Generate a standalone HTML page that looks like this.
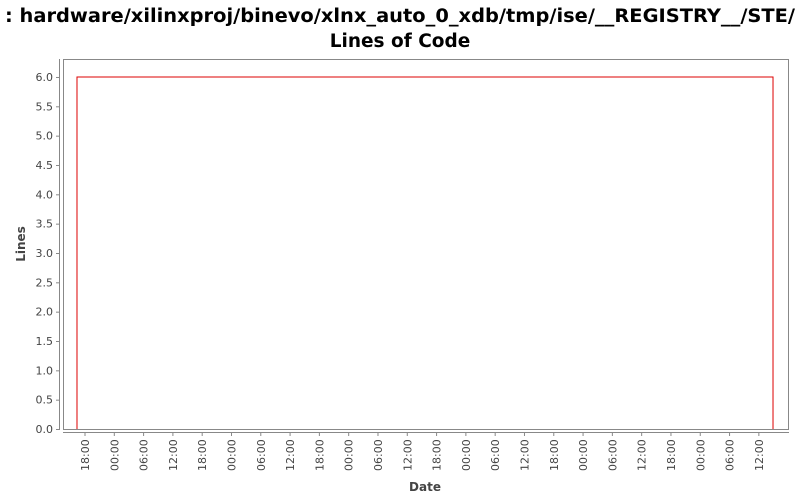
<!DOCTYPE html>
<html><head><meta charset="utf-8"><style>
body{margin:0;background:#fff;font-family:"DejaVu Sans","Liberation Sans",sans-serif;}
svg text{font-family:"DejaVu Sans","Liberation Sans",sans-serif;}
</style></head><body>
<svg id="chart" width="800" height="500" xmlns="http://www.w3.org/2000/svg">
<text x="400" y="22" text-anchor="middle" font-size="18.5" font-weight="bold" fill="#000" textLength="790" lengthAdjust="spacingAndGlyphs">: hardware/xilinxproj/binevo/xlnx_auto_0_xdb/tmp/ise/__REGISTRY__/STE/</text>
<text x="400" y="47" text-anchor="middle" font-size="18.5" font-weight="bold" fill="#000">Lines of Code</text>
<rect x="63.5" y="59.5" width="725" height="370" fill="#fff" stroke="#888"/>
<g id="yaxis"></g>
<g id="xaxis"></g>
<g id="series"></g>
<text transform="translate(25,244) rotate(-90)" text-anchor="middle" font-size="12" font-weight="bold" fill="#444">Lines</text>
<text x="425" y="491" text-anchor="middle" font-size="12" font-weight="bold" fill="#444">Date</text>
</svg>
<script>
// hours relative to first 18:00 tick
const times=[-1.64,140.9];
const values=[6,6];
const yTicks=[0,0.5,1,1.5,2,2.5,3,3.5,4,4.5,5,5.5,6];
const yTickLabels=["0.0","0.5","1.0","1.5","2.0","2.5","3.0","3.5","4.0","4.5","5.0","5.5","6.0"];
const xTickHours=[0,6,12,18,24,30,36,42,48,54,60,66,72,78,84,90,96,102,108,114,120,126,132,138];
const xTickLabels=["18:00","00:00","06:00","12:00","18:00","00:00","06:00","12:00","18:00","00:00","06:00","12:00","18:00","00:00","06:00","12:00","18:00","00:00","06:00","12:00","18:00","00:00","06:00","12:00"];
const NS="http://www.w3.org/2000/svg";
const xs=h=>85+h*4.883;
const ys=v=>429-v*58.67;
function mk(t,a,p){const e=document.createElementNS(NS,t);for(const k in a)e.setAttribute(k,a[k]);p.appendChild(e);return e;}
const ya=document.getElementById('yaxis');
mk('line',{x1:59.5,y1:59,x2:59.5,y2:430,stroke:'#888'},ya);
yTicks.forEach((v,i)=>{
 const t=mk('line',{x1:56,x2:59.5,y1:ys(v)+.5,y2:ys(v)+.5,stroke:'#888'},ya);
 
 
 const l=mk('text',{x:53,y:ys(v)+4,'text-anchor':'end','font-size':'11',fill:'#444'},ya);
 l.textContent=yTickLabels[i];
 
 
});
const xa=document.getElementById('xaxis');
mk('line',{x1:63,x2:789,y1:432.5,y2:432.5,stroke:'#888'},xa);
xTickHours.forEach((h,i)=>{
 const x=xs(h);
 const t=mk('line',{x1:x,x2:x,y1:432.5,y2:436,stroke:'#888'},xa);
 
 
 const l=mk('text',{transform:`translate(${x+4},471) rotate(-90)`,'font-size':'11',fill:'#444'},xa);
 l.textContent=xTickLabels[i];
 
 
});
const s=document.getElementById('series');
let d=`M${xs(times[0])},${ys(0)}`;
times.forEach((t,i)=>{d+=` L${xs(t)},${ys(values[i])}`;});
d+=` L${xs(times[times.length-1])},${ys(0)}`;
const p=mk('path',{d:d,fill:'none',stroke:'#d00','stroke-width':1},s);


</script>
</body></html>
